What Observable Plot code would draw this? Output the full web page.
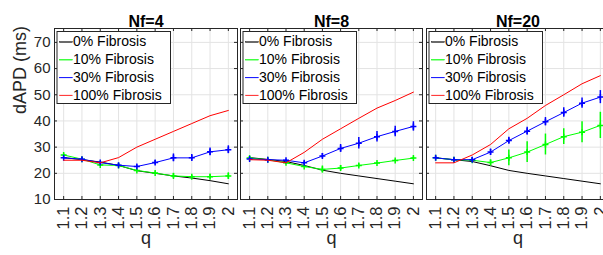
<!DOCTYPE html>
<html><head><meta charset="utf-8">
<script src="https://cdn.jsdelivr.net/npm/d3@7"></script>
<script src="https://cdn.jsdelivr.net/npm/@observablehq/plot@0.6"></script>
<style>
html,body{margin:0;padding:0;background:#fff;overflow:hidden;}
#wrap{position:relative;width:603px;height:255px;overflow:hidden;background:#fff;}
.panel{position:absolute;top:0;}
</style></head><body><div id="wrap"></div>
<script>
// ---------- data ----------
const q = [1.1, 1.2, 1.3, 1.4, 1.5, 1.6, 1.7, 1.8, 1.9, 2.0];
const xTickLabels = ["1.1","1.2","1.3","1.4","1.5","1.6","1.7","1.8","1.9","2"];
const yTicks = [10, 20, 30, 40, 50, 60, 70];
const seriesNames = ["0% Fibrosis", "10% Fibrosis", "30% Fibrosis", "100% Fibrosis"];
const panelTitles = ["Nf=4", "Nf=8", "Nf=20"];
const xLabel = "q";
const yLabel = "dAPD (ms)";

// Nf=4
const nf4_f0   = [26, 25.2, 24.3, 23, 21, 20, 19, 18.2, 17.2, 16];
const nf4_f10  = [27, 25.4, 23.2, 23, 21.1, 20.1, 19, 18.7, 18.7, 19];
const nf4_f10e = [0.4, 0.4, 0.6, 0.6, 0.4, 0.4, 1.0, 0.6, 0.9, 1.2];
const nf4_f30  = [25.9, 25.4, 24.1, 23.1, 22.6, 24.1, 25.9, 25.9, 28.2, 29];
const nf4_f30e = [0.3, 0.5, 0.5, 0.5, 0.6, 0.8, 1.5, 1.3, 1.5, 1.5];
const nf4_f100 = [25, 25, 24, 26, 30, 33, 36, 39, 42, 44];
// Nf=8
const nf8_f0   = [26, 25.3, 24.5, 23, 21.2, 20, 19, 18, 17, 16];
const nf8_f10  = [25.8, 25.2, 24, 22.6, 21.5, 22, 23, 23.9, 24.9, 25.8];
const nf8_f10e = [0.5, 0.3, 0.4, 0.4, 1.3, 1.0, 0.6, 0.3, 0.3, 0.4];
const nf8_f30  = [25.5, 25.2, 25, 24, 26.6, 29.5, 31.5, 34, 36, 37.9];
const nf8_f30e = [0.3, 0.4, 0.4, 0.6, 1.0, 1.5, 2.2, 2.0, 2.0, 1.8];
const nf8_f100 = [25.2, 25, 24, 28, 33, 37, 41, 44.9, 47.8, 51];
// Nf=20
const nf20_f0   = [25.9, 25.2, 24.5, 22.9, 21.1, 20, 19, 18, 17, 16];
const nf20_f10  = [25.9, 25.2, 25, 24.1, 25.9, 28.1, 31, 34, 35.7, 38.3];
const nf20_f10e = [0.3, 0.6, 0.6, 1.0, 3.0, 4.0, 4.0, 3.0, 4.0, 5.0];
const nf20_f30  = [25.9, 25.2, 25.2, 28.1, 32.5, 36.1, 39.7, 43.2, 46.8, 49.1];
const nf20_f30e = [0.4, 0.5, 0.8, 1.2, 1.3, 1.5, 1.6, 1.8, 2.0, 2.5];
const nf20_f100 = [24, 24, 27, 31, 37, 41, 45.9, 50, 54.2, 57.3];

// ---------- styles ----------
const colors = ["#000000", "#00ff00", "#0000ff", "#ff0000"];
const FONT = "'Liberation Sans', Arial, Helvetica, sans-serif";
const TXT = "#262626";
const layout = [
  {left: 0,   width: 238, ml: 54, mr: 1},
  {left: 238, width: 186, ml: 2,  mr: 2},
  {left: 424, width: 186, ml: 2,  mr: 1}
];
const H = 255, MT = 28, MB = 56;
const FH = H - MT - MB;

const panelData = [
  {vals: [nf4_f0, nf4_f10, nf4_f30, nf4_f100],   errs: [null, nf4_f10e, nf4_f30e, null]},
  {vals: [nf8_f0, nf8_f10, nf8_f30, nf8_f100],   errs: [null, nf8_f10e, nf8_f30e, null]},
  {vals: [nf20_f0, nf20_f10, nf20_f30, nf20_f100], errs: [null, nf20_f10e, nf20_f30e, null]}
];

const plusSymbol = {
  draw(ctx, size) {
    const h = Math.sqrt(size / Math.PI);
    ctx.moveTo(-h, 0); ctx.lineTo(h, 0);
    ctx.moveTo(0, -h); ctx.lineTo(0, h);
  }
};

const wrap = document.getElementById("wrap");

panelData.forEach((pd, p) => {
  const L = layout[p];
  const FW = L.width - L.ml - L.mr;
  const marks = [];
  marks.push(Plot.gridX(q, {stroke: "#e3e3e3", strokeOpacity: 1}));
  marks.push(Plot.gridY(yTicks, {stroke: "#e3e3e3", strokeOpacity: 1}));
  // series
  pd.vals.forEach((vals, s) => {
    const rows = q.map((x, i) => ({q: x, v: vals[i], e: pd.errs[s] ? pd.errs[s][i] : 0}));
    if (pd.errs[s]) {
      marks.push(Plot.ruleX(rows, {x: "q", y1: d => d.v - d.e, y2: d => d.v + d.e, stroke: colors[s], strokeWidth: 1.5}));
    }
    marks.push(Plot.line(rows, {x: "q", y: "v", stroke: colors[s], strokeWidth: 1}));
    if (pd.errs[s]) {
      marks.push(Plot.dot(rows, {x: "q", y: "v", symbol: plusSymbol, r: 3, stroke: colors[s], strokeWidth: 1.5}));
    }
  });
  // legend box
  const lbLeft = 2.5, lbRight = 116, lbTop = 3, lbBottom = 75;
  marks.push(Plot.frame({fill: "white", stroke: "#262626", strokeWidth: 1,
    insetLeft: lbLeft, insetRight: FW - lbRight, insetTop: lbTop, insetBottom: FH - lbBottom}));
  seriesNames.forEach((name, s) => {
    const cy = 13.5 + 17.8 * s;
    marks.push(Plot.frame({fill: colors[s], stroke: colors[s], strokeWidth: 0.4,
      insetLeft: 5, insetRight: FW - 18, insetTop: cy - 0.3, insetBottom: FH - cy - 0.3}));
    marks.push(Plot.text([name], {text: d => d, frameAnchor: "top-left", dx: 18.5, dy: cy,
      textAnchor: "start", lineAnchor: "middle", fontSize: 14, fill: "#000"}));
  });
  // inward ticks (box style)
  marks.push(Plot.tickX(q, {x: d => d, insetTop: FH - 3, stroke: TXT}));
  marks.push(Plot.tickX(q, {x: d => d, insetBottom: FH - 3, stroke: TXT}));
  marks.push(Plot.tickY(yTicks, {y: d => d, insetRight: FW - 3, stroke: TXT}));
  marks.push(Plot.tickY(yTicks, {y: d => d, insetLeft: FW - 3, stroke: TXT}));
  marks.push(Plot.frame({stroke: TXT, strokeWidth: 1}));
  // axes labels
  marks.push(Plot.axisX(q, {anchor: "bottom", tickSize: 0, tickPadding: 7, tickRotate: -90,
    tickFormat: d => xTickLabels[q.indexOf(d)], fontSize: 16.5, label: null, fill: TXT}));
  if (p === 0) {
    marks.push(Plot.axisY(yTicks, {anchor: "left", tickSize: 0, tickPadding: 4,
      tickFormat: d => String(d), fontSize: 15, label: null, fill: TXT}));
    marks.push(Plot.text([yLabel], {text: d => d, frameAnchor: "left", dx: -34, rotate: -90,
      fontSize: 18, fill: TXT}));
  } else {
    marks.push(Plot.axisY(yTicks, {anchor: "left", tickSize: 0, tickFormat: () => "", label: null}));
  }
  marks.push(Plot.text([xLabel], {text: d => d, frameAnchor: "bottom", dy: 44, fontSize: 18, fill: TXT}));
  marks.push(Plot.text([panelTitles[p]], {text: d => d, frameAnchor: "top", dy: -13,
    fontSize: 16, fontWeight: "bold", fill: "#000"}));

  const chart = Plot.plot({
    width: L.width, height: H,
    marginLeft: L.ml, marginRight: L.mr, marginTop: MT, marginBottom: MB,
    x: {domain: [1.05, 2.05], axis: null},
    y: {domain: [10, 75.3], axis: null},
    style: {fontFamily: FONT, fontSize: "14px", color: TXT, background: "transparent", overflow: "visible"},
    marks
  });
  const div = document.createElement("div");
  div.className = "panel";
  div.style.left = L.left + "px";
  div.style.width = L.width + "px";
  div.appendChild(chart);
  wrap.appendChild(div);
});
</script>
</body></html>
